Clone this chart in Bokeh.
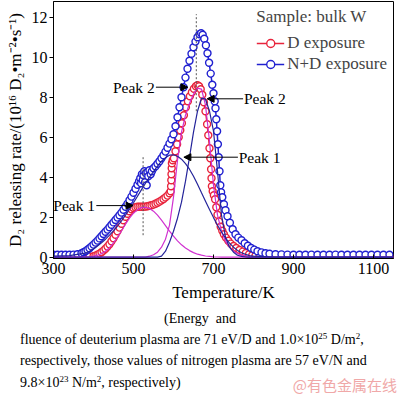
from bokeh.plotting import figure
from bokeh.layouts import column
from bokeh.models import Range1d, Label, Arrow, NormalHead, Legend, LegendItem, FixedTicker, Div
from bokeh.embed import file_html
from bokeh.resources import INLINE

# ---------------- data ----------------
x_ticks = [300, 500, 700, 900, 1100]
y_ticks = [0, 2, 4, 6, 8, 10, 12]

# D exposure (measured)
t_d = [300, 310, 320, 330, 340, 350, 360, 370, 380, 390, 400, 405, 410, 415, 420, 425, 430, 435,
       440, 445, 450, 455, 460, 465, 470, 475, 480, 485, 490, 495, 500, 505, 510, 515, 520, 525,
       530, 535, 540, 545, 550, 555, 560, 565, 570, 575, 580, 585, 590, 593, 594, 594.5, 595,
       595.5, 596, 598, 601, 605, 609, 613, 617, 621, 626, 631, 636, 641, 646, 651, 656, 660,
       664, 668, 672, 676, 680, 684, 687, 690, 692, 694, 695, 696, 698, 701, 704, 707, 710, 714,
       718, 722, 726, 731, 737, 743, 750, 757, 765, 773, 781, 789, 797, 805, 815, 825, 840, 860,
       880, 900, 920, 940, 960, 980, 1000, 1020, 1040, 1060, 1080, 1100, 1120, 1140]
rate_d = [0.02, 0.02, 0.02, 0.02, 0.02, 0.02, 0.02, 0.02, 0.03, 0.03, 0.05, 0.08, 0.12, 0.18, 0.25,
          0.33, 0.42, 0.53, 0.65, 0.8, 0.95, 1.12, 1.3, 1.48, 1.67, 1.85, 2.02, 2.17, 2.3, 2.4,
          2.46, 2.5, 2.52, 2.52, 2.52, 2.52, 2.53, 2.55, 2.57, 2.6, 2.63, 2.67, 2.72, 2.78, 2.84,
          2.91, 2.99, 3.08, 3.2, 3.3, 3.55, 3.85, 4.15, 4.45, 4.7, 4.85, 4.95, 5.3, 5.65, 6.0,
          6.35, 6.7, 7.1, 7.5, 7.8, 8.05, 8.25, 8.42, 8.55, 8.6, 8.55, 8.4, 8.12, 7.75, 7.3, 6.65,
          6.1, 5.45, 4.95, 4.4, 3.95, 3.55, 3.3, 3.1, 2.9, 2.5, 2.12, 1.78, 1.52, 1.32, 1.15, 0.98,
          0.82, 0.68, 0.56, 0.46, 0.36, 0.28, 0.21, 0.15, 0.1, 0.07, 0.05, 0.04, 0.03, 0.03, 0.03,
          0.03, 0.03, 0.03, 0.03, 0.03, 0.03, 0.03, 0.03, 0.03, 0.03, 0.03, 0.03, 0.03]

# N+D exposure (measured)
t_nd = [300, 310, 320, 330, 340, 350, 360, 370, 375, 380, 385, 390, 395, 400, 405, 410, 415, 420,
        425, 430, 435, 440, 445, 450, 455, 460, 465, 470, 475, 480, 485, 490, 495, 500, 505, 510,
        514, 517, 519, 521, 523, 525, 527, 529, 531, 533, 535, 537, 540, 543, 546, 550, 555, 560,
        565, 570, 575, 580, 585, 590, 595, 600, 605, 610, 615, 620, 625, 630, 635, 640, 645, 650,
        655, 660, 665, 669, 673, 677, 681, 685, 689, 693, 697, 700, 703, 705, 707, 709, 711, 713,
        715, 717, 719, 722, 726, 730, 735, 741, 748, 755, 762, 770, 778, 786, 794, 802, 810, 820,
        830, 840, 855, 870, 885, 900, 915, 930, 945, 960, 975, 990, 1005, 1020, 1035, 1050, 1065,
        1080, 1095, 1110, 1125, 1140]
rate_nd = [0.12, 0.12, 0.12, 0.12, 0.12, 0.13, 0.15, 0.2, 0.25, 0.3, 0.37, 0.45, 0.54, 0.63, 0.73,
           0.83, 0.94, 1.05, 1.16, 1.27, 1.38, 1.5, 1.62, 1.74, 1.86, 1.98, 2.1, 2.23, 2.37, 2.52,
           2.68, 2.85, 3.03, 3.22, 3.42, 3.62, 3.8, 3.95, 3.7, 4.15, 3.85, 4.1, 4.3, 3.75, 4.2,
           3.6, 4.25, 4.05, 4.35, 4.15, 4.3, 4.45, 4.55, 4.67, 4.8, 4.95, 5.1, 5.28, 5.47, 5.68,
           5.9, 6.15, 6.55, 7.0, 7.5, 8.0, 8.5, 8.98, 9.42, 9.82, 10.17, 10.5, 10.78, 11.0, 11.15,
           11.2, 11.12, 10.92, 10.6, 10.2, 9.72, 9.18, 8.62, 8.2, 7.8, 7.45, 6.9, 6.3, 5.65, 5.0,
           4.3, 3.6, 3.25, 3.0, 2.65, 2.35, 2.05, 1.72, 1.4, 1.15, 0.98, 0.85, 0.7, 0.57, 0.46,
           0.38, 0.3, 0.24, 0.2, 0.17, 0.15, 0.14, 0.13, 0.12, 0.12, 0.12, 0.13, 0.12, 0.12, 0.12,
           0.13, 0.12, 0.12, 0.12, 0.12, 0.12, 0.12, 0.12, 0.12, 0.12]

# fitted component peaks
t_fit = [300, 340, 380, 390, 400, 410, 420, 430, 440, 450, 460, 470, 480, 490, 500, 510, 520, 530,
         540, 550, 560, 570, 580, 590, 600, 610, 620, 630, 640, 650, 660, 670, 680, 690, 700, 710,
         720, 730, 740, 750, 760, 770, 780, 790, 800, 850, 900, 950, 1000, 1050, 1100, 1150]
d_peak1 = [0, 0, 0, 0.02, 0.05, 0.1, 0.18, 0.3, 0.48, 0.72, 1.0, 1.32, 1.65, 1.95, 2.2, 2.38, 2.48,
           2.5, 2.44, 2.3, 2.1, 1.85, 1.58, 1.3, 1.05, 0.82, 0.62, 0.46, 0.33, 0.23, 0.15, 0.1,
           0.06, 0.04, 0.02, 0.01, 0, 0, 0, 0, 0, 0, 0, 0, 0, 0, 0, 0, 0, 0, 0, 0]
d_peak2 = [0, 0, 0, 0, 0, 0, 0, 0, 0, 0, 0, 0, 0, 0, 0, 0, 0, 0, 0.05, 0.12, 0.25, 0.5, 0.9, 1.6,
           3.0, 4.85, 6.25, 7.1, 7.7, 8.15, 8.45, 8.4, 7.6, 5.8, 3.6, 2.1, 1.3, 0.8, 0.5, 0.3, 0.18,
           0.1, 0.05, 0.02, 0, 0, 0, 0, 0, 0, 0, 0]
nd_peak1 = [0.05, 0.08, 0.2, 0.3, 0.42, 0.56, 0.72, 0.9, 1.1, 1.32, 1.56, 1.82, 2.1, 2.4, 2.72,
            3.05, 3.38, 3.7, 4.0, 4.28, 4.55, 4.8, 4.98, 5.1, 5.12, 5.05, 4.9, 4.68, 4.4, 4.05,
            3.65, 3.22, 2.8, 2.38, 1.98, 1.6, 1.26, 0.96, 0.7, 0.5, 0.34, 0.22, 0.14, 0.08, 0.05,
            0.01, 0, 0, 0, 0, 0, 0]
nd_peak2 = [0, 0, 0, 0, 0, 0, 0, 0, 0, 0, 0, 0, 0, 0, 0, 0, 0, 0, 0, 0, 0, 0.05, 0.3, 0.75, 1.3,
            1.95, 2.75, 3.8, 5.0, 6.25, 7.3, 7.95, 7.9, 7.3, 6.3, 4.3, 2.1, 1.0, 0.5, 0.25, 0.1,
            0.04, 0.01, 0, 0, 0, 0, 0, 0, 0, 0, 0]

# dotted guide lines
dot_x = [524, 657]
dot_y0 = [1.1, 7.3]
dot_y1 = [5.1, 12.15]

series_labels = ["D exposure", "N+D exposure"]
legend_title = "Sample: bulk W"
caption = ["(Energy&nbsp;&nbsp;and",
           "fluence of deuterium plasma are 71 eV/D and 1.0\u00d710<sup>25</sup> D/m<sup>2</sup>,",
           "respectively, those values of nitrogen plasma are 57 eV/N and",
           "9.8\u00d710<sup>23</sup> N/m<sup>2</sup>, respectively)"]
watermark = "@有色金属在线"

# ---------------- styling ----------------
FONT = "Liberation Serif"
RED = "#e8243c"
BLUE = "#2020d0"
MAG = "#d030d0"
NAVY = "#24249a"

p = figure(width=400, height=305, output_backend="svg", toolbar_location=None,
           x_range=Range1d(300, 1150), y_range=Range1d(-0.065, 12.785),
           min_border_left=53, min_border_right=7, min_border_top=1, min_border_bottom=47)
p.grid.visible = False
p.outline_line_color = "black"
p.outline_line_width = 1
p.background_fill_color = "white"
p.border_fill_color = "white"

p.xaxis.ticker = FixedTicker(ticks=x_ticks)
p.yaxis.ticker = FixedTicker(ticks=y_ticks)
for ax in (p.xaxis[0], p.yaxis[0]):
    ax.axis_line_color = "black"
    ax.major_tick_line_color = "black"
    ax.minor_tick_line_color = None
    ax.major_label_text_font = FONT
    ax.major_label_text_font_size = "16px"
    ax.major_label_text_color = "black"
    ax.axis_label_text_font = FONT
    ax.axis_label_text_font_size = "17px"
    ax.axis_label_text_font_style = "normal"
    ax.axis_label_text_color = "black"

p.xaxis.major_tick_in = 4
p.xaxis.major_tick_out = 0
p.xaxis.major_label_standoff = 4
p.xaxis.axis_label = "Temperature/K"
p.xaxis.axis_label_standoff = 6

p.yaxis.major_tick_in = 0
p.yaxis.major_tick_out = 4
p.yaxis.major_label_standoff = 2
p.yaxis.axis_label = "D\u2082 releasing rate/(10\u00b9\u2076 D\u2082\u2022m\u207b\u00b2\u2022s\u207b\u00b9)"
p.yaxis.axis_label_standoff = 4

# measured data
r_line = p.line(t_d, rate_d, line_color=RED, line_width=1.5)
r_sc = p.scatter(t_d, rate_d, marker="circle", size=7, fill_color="white",
                 line_color=RED, line_width=1.4)
b_line = p.line(t_nd, rate_nd, line_color=BLUE, line_width=1.5)
b_sc = p.scatter(t_nd, rate_nd, marker="circle", size=7, fill_color="white",
                 line_color=BLUE, line_width=1.4)

# fitted peaks
p.line(t_fit, d_peak1, line_color=MAG, line_width=1.2)
p.line(t_fit, d_peak2, line_color=MAG, line_width=1.2)
p.line(t_fit, nd_peak1, line_color=NAVY, line_width=1.2)
p.line(t_fit, nd_peak2, line_color=NAVY, line_width=1.2)

p.segment(x0=dot_x, y0=dot_y0, x1=dot_x, y1=dot_y1, line_color="#555555",
          line_width=1, line_dash="2 2")

# peak annotations
def peak(text, tx, ty, align, x0, x1):
    p.add_layout(Label(x=tx, y=ty, text=text, text_align=align, text_baseline="middle",
                       text_font=FONT, text_font_size="15.5px", text_color="black"))
    p.add_layout(Arrow(end=NormalHead(size=7, fill_color="black", line_color="black", line_width=1),
                       x_start=x0, y_start=ty, x_end=x1, y_end=ty,
                       line_color="black", line_width=1))

peak("Peak 2", 553, 8.5, "right", 556, 636)
peak("Peak 2", 776, 7.92, "left", 774, 684)
peak("Peak 1", 763, 5.0, "left", 761, 626)
peak("Peak 1", 404, 2.58, "right", 407, 499)

legend = Legend(items=[LegendItem(label=series_labels[0], renderers=[r_line, r_sc]),
                       LegendItem(label=series_labels[1], renderers=[b_line, b_sc])],
                title=legend_title, location="top_right")
legend.title_text_font = FONT
legend.title_text_font_size = "17px"
legend.title_text_font_style = "normal"
legend.title_standoff = 6
legend.label_text_font = FONT
legend.label_text_font_size = "17px"
legend.glyph_width = 28
legend.glyph_height = 20
legend.label_height = 20
legend.label_standoff = 3
legend.spacing = 1
legend.padding = 0
legend.margin = 6
legend.border_line_alpha = 0
legend.background_fill_alpha = 0
p.add_layout(legend)

# caption under the chart
sup = '<span style="font-size:9px;position:relative;top:-5px;">'
def line_html(txt, top, left=None, center=False):
    txt = txt.replace("<sup>", sup).replace("</sup>", "</span>")
    if center:
        pos = f"left:0;width:400px;text-align:center;"
    else:
        pos = f"left:{left}px;"
    return (f'<div style="position:absolute;top:{top}px;{pos}white-space:nowrap;'
            f'line-height:16px;">{txt}</div>')

html = ('<div style="position:relative;width:400px;height:91px;background:white;'
        f'font-family:\'{FONT}\';font-size:14px;color:black;">'
        + line_html(caption[0], 6, center=True)
        + line_html(caption[1], 27, left=20)
        + line_html(caption[2], 48, left=20)
        + line_html(caption[3], 70, left=20)
        + '<div style="position:absolute;top:71px;right:3px;line-height:18px;'
          'font-family:\'Noto Sans CJK SC\';font-size:15px;color:#f0a8a8;white-space:nowrap;">'
        + watermark + '</div></div>')
cap = Div(text=html, width=400, height=91, margin=(0, 0, 0, 0))

layout = column(p, cap, spacing=0)
open("out.html", "w").write(file_html(layout, INLINE))
